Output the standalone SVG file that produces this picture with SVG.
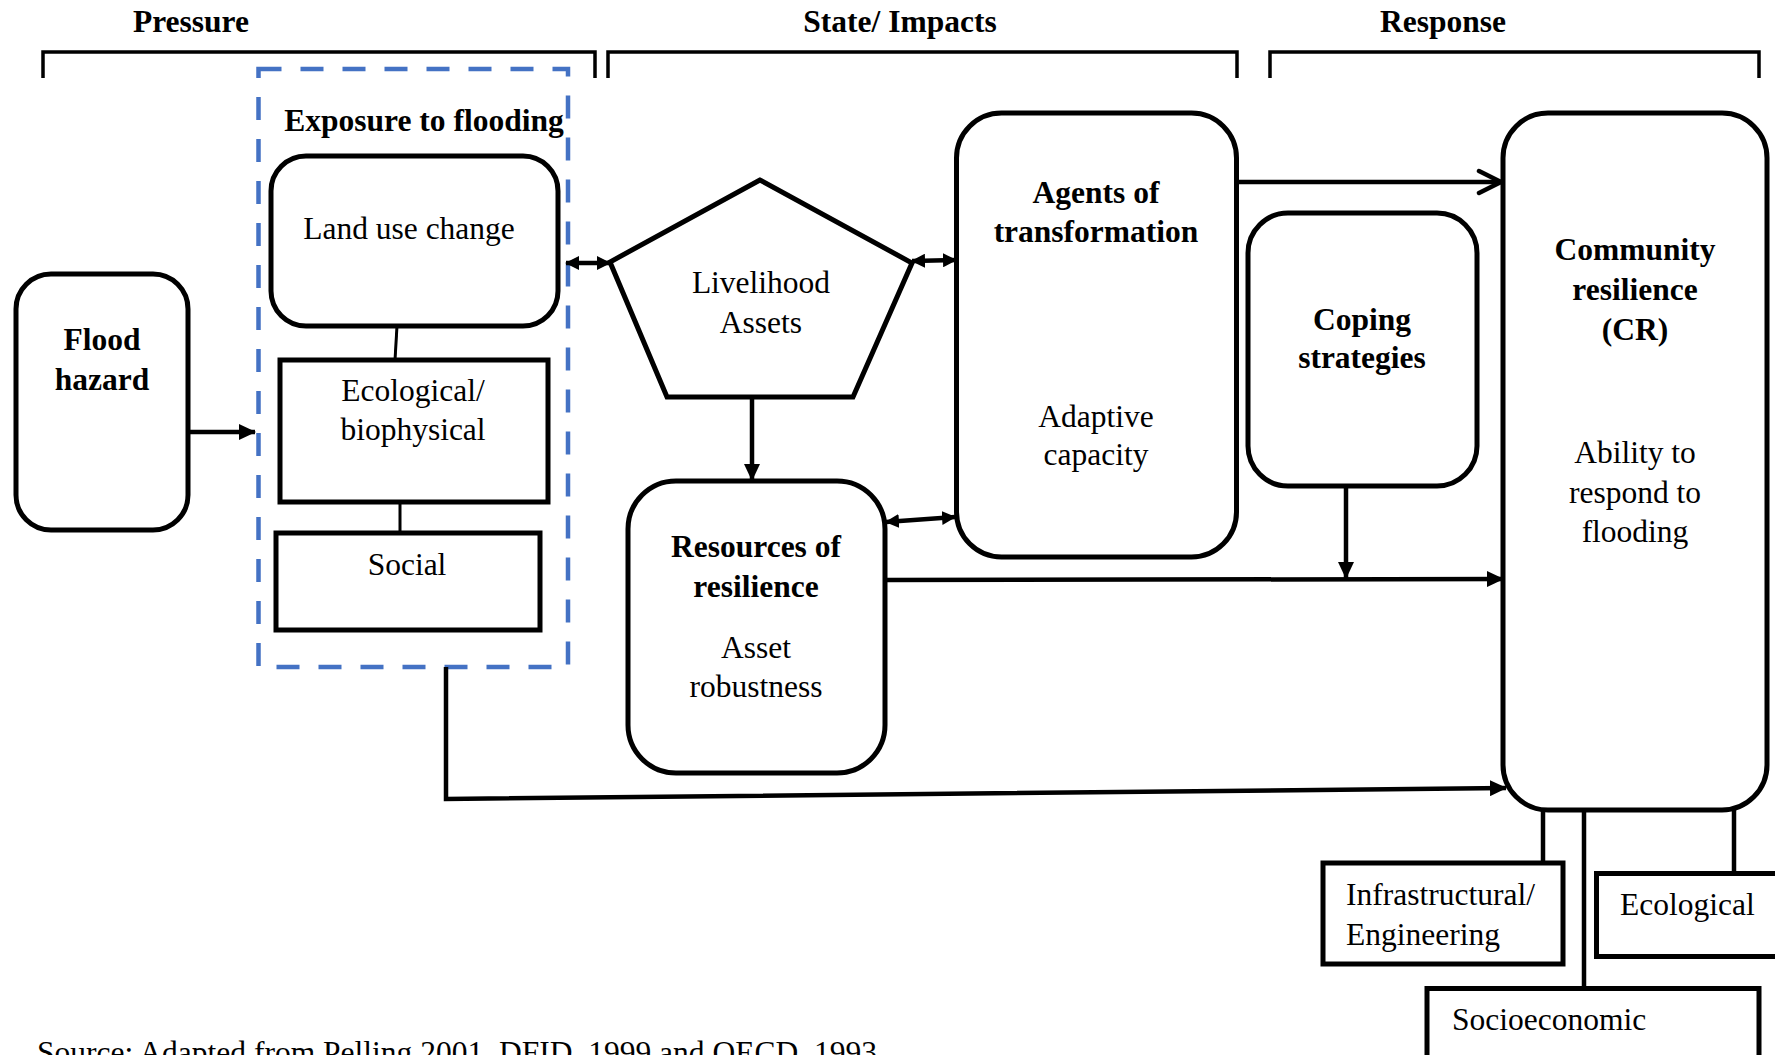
<svg xmlns="http://www.w3.org/2000/svg" width="1775" height="1055" viewBox="0 0 1775 1055">
<style>
text{font-family:"Liberation Serif","Times New Roman",serif;font-size:31.5px;fill:#000;text-anchor:middle}
.b{font-weight:bold}
.s{text-anchor:start}
.box{fill:#fff;stroke:#000;stroke-width:5}
.br{fill:none;stroke:#000;stroke-width:3.5}
.ln{fill:none;stroke:#000;stroke-width:4.5}
.thin{fill:none;stroke:#000;stroke-width:3}
</style>
<defs>
<marker id="arr" viewBox="0 0 17 16" refX="16" refY="8" markerWidth="17" markerHeight="16" markerUnits="userSpaceOnUse" orient="auto-start-reverse"><path d="M0,0 L17,8 L0,16 z" fill="#000"/></marker>
<marker id="sm" viewBox="0 0 14 14" refX="13" refY="7" markerWidth="14" markerHeight="14" markerUnits="userSpaceOnUse" orient="auto-start-reverse"><path d="M0,0 L14,7 L0,14 z" fill="#000"/></marker>
<marker id="open" viewBox="0 0 28 28" refX="25" refY="14" markerWidth="28" markerHeight="28" markerUnits="userSpaceOnUse" orient="auto"><path d="M3,3 L25,14 L3,25" fill="none" stroke="#000" stroke-width="4.5" stroke-linecap="round" stroke-linejoin="round"/></marker>
</defs>
<rect width="1775" height="1055" fill="#fff"/>

<g id="headers">
<text class="b" x="191" y="32">Pressure</text>
<path class="br" d="M43,78 V52 H595 V78"/>
<text class="b" x="900" y="32">State/ Impacts</text>
<path class="br" d="M608,78 V52 H1237 V78"/>
<text class="b" x="1443" y="32">Response</text>
<path class="br" d="M1270,78 V52 H1759 V78"/>
</g>

<g id="flood-hazard">
<rect class="box" x="16" y="274" width="172" height="256" rx="35"/>
<text class="b" x="102" y="350">Flood</text>
<text class="b" x="102" y="390">hazard</text>
</g>

<g id="exposure">
<rect x="258.5" y="69" width="309.5" height="598" fill="none" stroke="#4472C4" stroke-width="4.5" stroke-dasharray="23 19"/>
<text class="b" x="424" y="131">Exposure to flooding</text>
</g>

<g id="land-use">
<rect class="box" x="271" y="156" width="287" height="170" rx="35"/>
<text x="409" y="239">Land use change</text>
</g>

<g id="ecological-biophysical">
<rect class="box" x="280" y="360" width="268" height="142"/>
<text x="413" y="401">Ecological/</text>
<text x="413" y="440">biophysical</text>
</g>

<g id="social">
<rect class="box" x="276" y="533" width="264" height="97"/>
<text x="407" y="575">Social</text>
</g>

<g id="livelihood-assets">
<polygon class="box" points="760,180 610,262 667,397 853,397 912,263" stroke-linejoin="miter"/>
<text x="761" y="293">Livelihood</text>
<text x="761" y="333">Assets</text>
</g>

<g id="resources">
<rect class="box" x="628" y="481" width="257" height="292" rx="48"/>
<text class="b" x="756" y="557">Resources of</text>
<text class="b" x="756" y="597">resilience</text>
<text x="756" y="658">Asset</text>
<text x="756" y="697">robustness</text>
</g>

<g id="agents">
<rect class="box" x="956.5" y="113" width="280" height="444" rx="45"/>
<text class="b" x="1096" y="203">Agents of</text>
<text class="b" x="1096" y="242">transformation</text>
<text x="1096" y="427">Adaptive</text>
<text x="1096" y="465">capacity</text>
</g>

<g id="coping">
<rect class="box" x="1248" y="213" width="229" height="273" rx="40"/>
<text class="b" x="1362" y="330">Coping</text>
<text class="b" x="1362" y="368">strategies</text>
</g>

<g id="community-resilience">
<rect class="box" x="1503" y="113" width="264" height="697" rx="45"/>
<text class="b" x="1635" y="260">Community</text>
<text class="b" x="1635" y="300">resilience</text>
<text class="b" x="1635" y="340">(CR)</text>
<text x="1635" y="463">Ability to</text>
<text x="1635" y="503">respond to</text>
<text x="1635" y="542">flooding</text>
</g>

<g id="infrastructural">
<rect class="box" x="1323" y="863" width="240" height="101"/>
<text class="s" x="1346" y="905">Infrastructural/</text>
<text class="s" x="1346" y="945">Engineering</text>
</g>

<g id="ecological">
<rect class="box" x="1596.5" y="873.5" width="200" height="83"/>
<text class="s" x="1620" y="915">Ecological</text>
</g>

<g id="socioeconomic">
<rect class="box" x="1427" y="988.5" width="332" height="100"/>
<text class="s" x="1452" y="1030">Socioeconomic</text>
</g>

<g id="connectors">
<line class="thin" x1="397" y1="326" x2="395" y2="360"/>
<line class="thin" x1="400" y1="502" x2="400" y2="533"/>
<line class="ln" x1="188" y1="432" x2="255" y2="432" marker-end="url(#arr)"/>
<path class="ln" d="M446,667 V799 L1506,788" marker-end="url(#arr)"/>
<line class="ln" x1="566" y1="263" x2="610" y2="263" marker-start="url(#sm)" marker-end="url(#sm)"/>
<line class="ln" x1="912" y1="261" x2="956" y2="260" marker-start="url(#sm)" marker-end="url(#sm)"/>
<line class="ln" x1="752" y1="397" x2="752" y2="480" marker-end="url(#arr)"/>
<line class="ln" x1="886" y1="522" x2="955" y2="517" marker-start="url(#sm)" marker-end="url(#sm)"/>
<line class="ln" x1="885" y1="580" x2="1503" y2="579" marker-end="url(#arr)"/>
<line class="ln" x1="1346" y1="486" x2="1346" y2="578" marker-end="url(#arr)"/>
<line class="ln" x1="1237" y1="182" x2="1501" y2="182" marker-end="url(#open)"/>
<line class="ln" x1="1543" y1="810" x2="1543" y2="863"/>
<line class="ln" x1="1584" y1="810" x2="1584" y2="988"/>
<line class="ln" x1="1734" y1="810" x2="1734" y2="873"/>
</g>

<text class="s" x="37" y="1063">Source: Adapted from Pelling 2001, DFID, 1999 and OECD, 1993</text>
</svg>
